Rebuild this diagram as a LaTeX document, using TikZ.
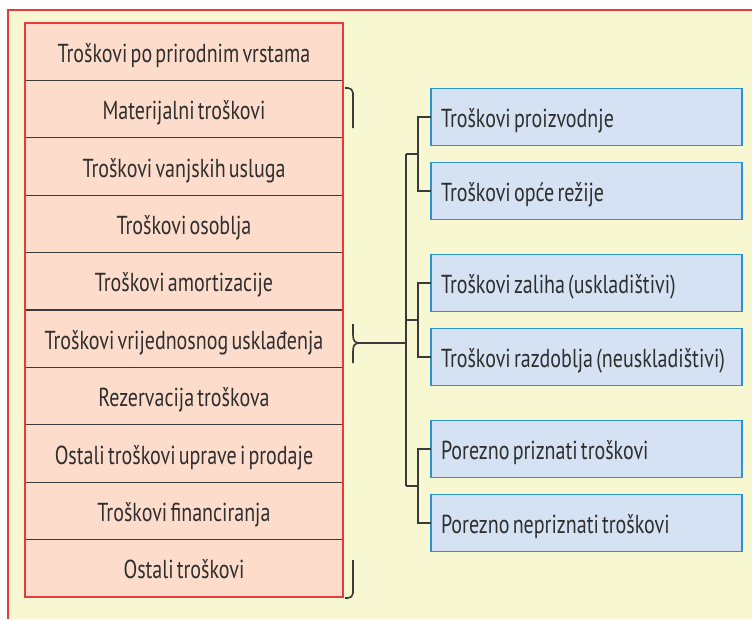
\documentclass[tikz,border=0pt]{standalone}
\usepackage{fontspec}
\setmainfont[FakeStretch=0.77, WordSpace=0.6]{PT Sans}
\usetikzlibrary{positioning, calc, fit}

\definecolor{bgyellow}{HTML}{F7F7D2}
\definecolor{frame}{HTML}{E8393B}
\definecolor{pinkfill}{HTML}{FDDCCB}
\definecolor{bluefill}{HTML}{D4E2F3}
\definecolor{blueline}{HTML}{2B93D3}
\definecolor{linegray}{HTML}{3A3A3A}
\definecolor{textgray}{HTML}{2E2E2E}

\begin{document}
\begin{tikzpicture}[x=1pt, y=-1pt,
    kind/.style={draw=linegray, line width=1.2pt, fill=pinkfill, minimum width=318pt,
      minimum height=57.4pt, outer sep=0pt, inner sep=0pt, text=textgray,
      text height=23pt, text depth=2pt, font=\fontsize{26}{30}\selectfont},
    costbox/.style={draw=blueline, line width=1.5pt, fill=bluefill, minimum height=57pt,
      text width=291pt, inner xsep=10pt, align=flush left, outer sep=0pt, text=textgray,
      text height=23pt, text depth=2pt, font=\fontsize{26}{30}\selectfont},
    link/.style={draw=linegray, line width=1.6pt}]
  % background
  \useasboundingbox (0,0) rectangle (752,619);
  \fill[bgyellow] (8,10) rectangle (752,619);
  \draw[frame, line width=2pt] (8,619) |- (752,10);

  % costs by nature
  \node[kind] (r1) at (184,51.7) {Troškovi po prirodnim vrstama};
  \node[kind, below=0pt of r1] (r2) {Materijalni troškovi};
  \node[kind, below=0pt of r2] (r3) {Troškovi vanjskih usluga};
  \node[kind, below=0pt of r3] (r4) {Troškovi osoblja};
  \node[kind, below=0pt of r4] (r5) {Troškovi amortizacije};
  \node[kind, below=0pt of r5] (r6) {Troškovi vrijednosnog usklađenja};
  \node[kind, below=0pt of r6] (r7) {Rezervacija troškova};
  \node[kind, below=0pt of r7] (r8) {Ostali troškovi uprave i prodaje};
  \node[kind, below=0pt of r8] (r9) {Troškovi financiranja};
  \node[kind, below=0pt of r9] (r10) {Ostali troškovi};
  \node[draw=frame, line width=1.5pt, inner sep=0pt, fit=(r1)(r10)] (col) {};

  % classifications
  \node[costbox] (b1) at (586.5,117) {Troškovi proizvodnje};
  \node[costbox, below=17pt of b1] (b2) {Troškovi opće režije};
  \node[costbox, below=35pt of b2] (b3) {Troškovi zaliha (uskladištivi)};
  \node[costbox, below=17pt of b3] (b4) {Troškovi razdoblja (neuskladištivi)};
  \node[costbox, below=35pt of b4] (b5) {Porezno priznati troškovi};
  \node[costbox, below=17pt of b5] (b6) {Porezno nepriznati troškovi};

  % brace
  \coordinate (tip) at (360,343);
  \draw[link, rounded corners=5pt] (345,88) -- (353,88) -- (353,128);
  \draw[link, rounded corners=5pt] (353,560) -- (353,598) -- (345,598);
  \draw[link] (353,324) -- (353,335) .. controls (353,341) and (355,343) .. (tip)
    .. controls (355,343) and (353,345) .. (353,351) -- (353,363);

  % tree
  \foreach \a/\b/\n in {b1/b2/1, b3/b4/2, b5/b6/3} {
    \draw[link] (\a.west) -- ++(-13,0) |- (\b.west);
    \draw[link] ($(\a.west)!0.5!(\b.west)+(-13,0)$) -- ++(-12,0) coordinate (t\n);
  }
  \draw[link] (t1) -- (t3);
  \draw[link] (tip) -- (tip -| t1);
\end{tikzpicture}
\end{document}
